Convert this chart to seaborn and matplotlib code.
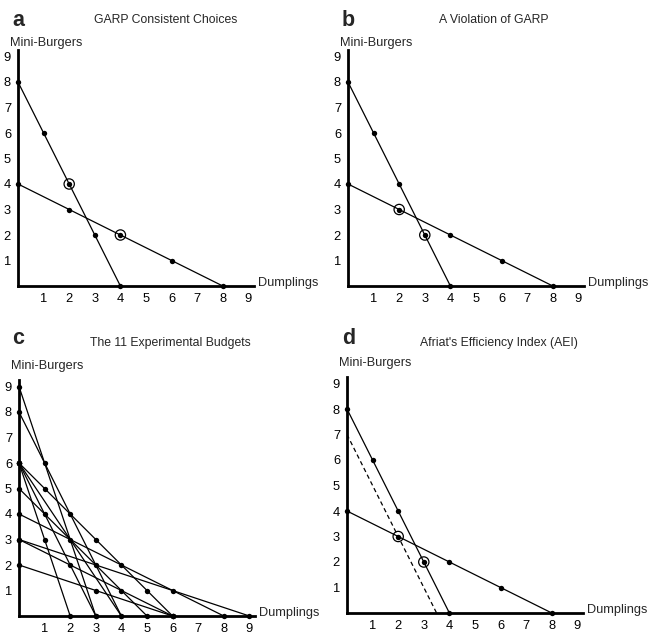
import pandas as pd
import matplotlib
matplotlib.use("Agg")
import matplotlib.pyplot as plt
import seaborn as sns

# budget lines as (y intercept, x intercept)
two_budget_y = [8, 4]
two_budget_x = [4, 8]
two_dot_x = [1, 2, 3, 2, 4, 6]
two_dot_y = [6, 4, 2, 3, 2, 1]
chosen_a_x = [2, 4]
chosen_a_y = [4, 2]
chosen_b_x = [2, 3]
chosen_b_y = [3, 2]
aei_line_y = [7, 0]
aei_line_x = [0, 3.5]

c_budget_y = [9, 8, 6, 6, 6, 6, 5, 4, 3, 3, 2]
c_budget_x = [3, 4, 2, 3, 4, 6, 5, 8, 6, 9, 6]
c_dot_x = [1, 1, 1, 1, 2, 2, 2, 3, 3, 3, 4, 4, 5, 6]
c_dot_y = [6, 5, 4, 3, 4, 3, 2, 3, 2, 1, 2, 1, 1, 1]

tick_vals = [1, 2, 3, 4, 5, 6, 7, 8, 9]

titles = ["GARP Consistent Choices", "A Violation of GARP",
          "The 11 Experimental Budgets", "Afriat's Efficiency Index (AEI)"]
letters = ["a", "b", "c", "d"]

sns.set_style("white")
plt.rcParams['font.family'] = ['Liberation Sans', 'DejaVu Sans']

W, H = 654, 638
fig = plt.figure(figsize=(W / 100, H / 100), dpi=100)

# origin pixel positions of each panel
origins = [(18, 286), (348, 286), (19, 616), (347, 613)]
ux, uy = 25.6, 25.5
xmax, ymax = 9.2, 9.25


def budget_frame(ys, xs):
    rows = []
    for i, (y0, x0) in enumerate(zip(ys, xs)):
        rows.append({"id": i, "x": 0, "y": y0})
        rows.append({"id": i, "x": x0, "y": 0})
    return pd.DataFrame(rows)


def endpoints(ys, xs):
    px = [0] * len(ys) + list(xs)
    py = list(ys) + [0] * len(xs)
    return px, py


axes = []
for k, (ox, oy) in enumerate(origins):
    left = ox / W
    bottom = 1 - oy / H
    ax = fig.add_axes([left, bottom, xmax * ux / W, ymax * uy / H])
    ax.set_xlim(0, xmax)
    ax.set_ylim(0, ymax)
    for s in ["top", "right"]:
        ax.spines[s].set_visible(False)
    for s in ["left", "bottom"]:
        ax.spines[s].set_linewidth(2)
        ax.spines[s].set_color("black")
    ax.set_xticks(tick_vals)
    ax.set_yticks(tick_vals)
    ax.set_xticklabels([str(t) for t in tick_vals])
    ax.set_yticklabels([str(t) for t in tick_vals])
    ax.tick_params(length=2, width=1, pad=3, labelsize=9.3, colors="black")
    axes.append(ax)

dot_kw = dict(color="black", s=15, edgecolor="black", linewidth=0, zorder=4, legend=False)
ring_kw = dict(facecolor="none", edgecolor="black", s=55, linewidth=0.9, zorder=5, legend=False)

# panels a, b, d share the two budgets
for k in [0, 1, 3]:
    ax = axes[k]
    df = budget_frame(two_budget_y, two_budget_x)
    sns.lineplot(data=df, x="x", y="y", units="id", estimator=None,
                 color="black", linewidth=0.9, ax=ax, legend=False)
    ex, ey = endpoints(two_budget_y, two_budget_x)
    sns.scatterplot(x=ex + two_dot_x, y=ey + two_dot_y, ax=ax, clip_on=False, **dot_kw)

sns.scatterplot(x=chosen_a_x, y=chosen_a_y, ax=axes[0], **ring_kw)
sns.scatterplot(x=chosen_b_x, y=chosen_b_y, ax=axes[1], **ring_kw)
sns.scatterplot(x=chosen_b_x, y=chosen_b_y, ax=axes[3], **ring_kw)
sns.lineplot(x=aei_line_x, y=aei_line_y, ax=axes[3], color="black",
             linewidth=0.9, linestyle=(0, (3.5, 2.5)), estimator=None, sort=False)

# panel c
dfc = budget_frame(c_budget_y, c_budget_x)
sns.lineplot(data=dfc, x="x", y="y", units="id", estimator=None,
             color="black", linewidth=0.9, ax=axes[2], legend=False)
ex, ey = endpoints(c_budget_y, c_budget_x)
sns.scatterplot(x=ex + c_dot_x, y=ey + c_dot_y, ax=axes[2], clip_on=False, **dot_kw)

for k, ax in enumerate(axes):
    ax.set_xlabel("")
    ax.set_ylabel("")
    ylab = 1.03 if k < 2 else 1.06
    ax.text(-0.034, ylab, "Mini-Burgers", transform=ax.transAxes,
            ha="left", va="center", fontsize=9.2)
    ax.text(1.02, 0.013, "Dumplings", transform=ax.transAxes,
            ha="left", va="center", fontsize=9.2)

title_pos = [(166, 20), (494, 20), (170, 343), (499, 343)]
letter_pos = [(12, 20), (342, 20), (12, 338), (342, 338)]
for t, (tx, ty) in zip(titles, title_pos):
    fig.text(tx / W, 1 - ty / H, t, ha="center", va="center", fontsize=8.8)
for l, (lx, ly) in zip(letters, letter_pos):
    fig.text(lx / W, 1 - ly / H, l, ha="left", va="center", fontsize=15.5, fontweight="bold")

fig.savefig("out.png", dpi=100)
